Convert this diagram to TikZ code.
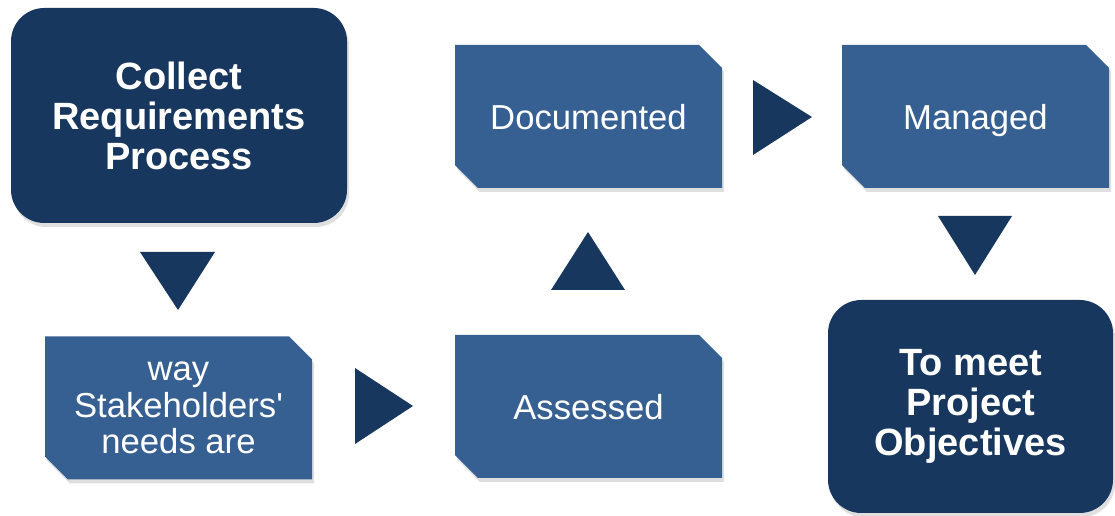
\documentclass[tikz,border=0pt]{standalone}
\usepackage{fontspec}
\setmainfont{Liberation Sans}
\usetikzlibrary{shapes.misc,shadows}
\definecolor{navy}{RGB}{23,55,94}
\definecolor{midblue}{RGB}{55,96,146}
\begin{document}
\begin{tikzpicture}[x=0.75pt,y=-0.75pt,
  shad/.style={drop shadow={opacity=0.25,shadow xshift=1.5pt,shadow yshift=-3pt}},
  roundbox/.style={shad,fill=navy,draw=none,rounded corners=25pt,inner sep=0pt,outer sep=0pt,
    text=white,align=center,font=\bfseries\fontsize{28.5}{30}\selectfont},
  snipbox/.style={shad,chamfered rectangle,chamfered rectangle corners={north east,south west},
    chamfered rectangle xsep=8.6pt,chamfered rectangle ysep=8.6pt,
    fill=midblue,draw=none,inner sep=0pt,outer sep=0pt,
    minimum width=200.25pt,minimum height=107.25pt,
    text=white,align=center,font=\fontsize{26}{27.2}\selectfont},
  oneline/.style={text depth=0pt},
  tri/.style={fill=navy,draw=none}]
\useasboundingbox (0,0) rectangle (1115,516);
\node[roundbox,minimum width=252pt,minimum height=161.25pt] (collect) at (179,115.5) {Collect\\Requirements\\Process};
\node[snipbox] (stake) at (178.5,408) {way\\Stakeholders\textquotesingle\\needs are};
\node[snipbox,oneline] (assessed) at (588.5,406.5) {Assessed};
\node[snipbox,oneline] (documented) at (588.5,116.5) {Documented};
\node[snipbox,oneline] (managed) at (975.5,116.5) {Managed};
\node[roundbox,minimum width=213.75pt,minimum height=159.75pt] (meet) at (970.5,406.5) {To meet\\Project\\Objectives};
\fill[tri] (140,252) -- (215,252) -- (178,310) -- cycle;
\fill[tri] (355,368) -- (355,444) -- (413,406) -- cycle;
\fill[tri] (551,290) -- (625,290) -- (588,232) -- cycle;
\fill[tri] (753,80) -- (753,155) -- (812,117) -- cycle;
\fill[tri] (938,216) -- (1012,216) -- (975,275) -- cycle;
\end{tikzpicture}
\end{document}
